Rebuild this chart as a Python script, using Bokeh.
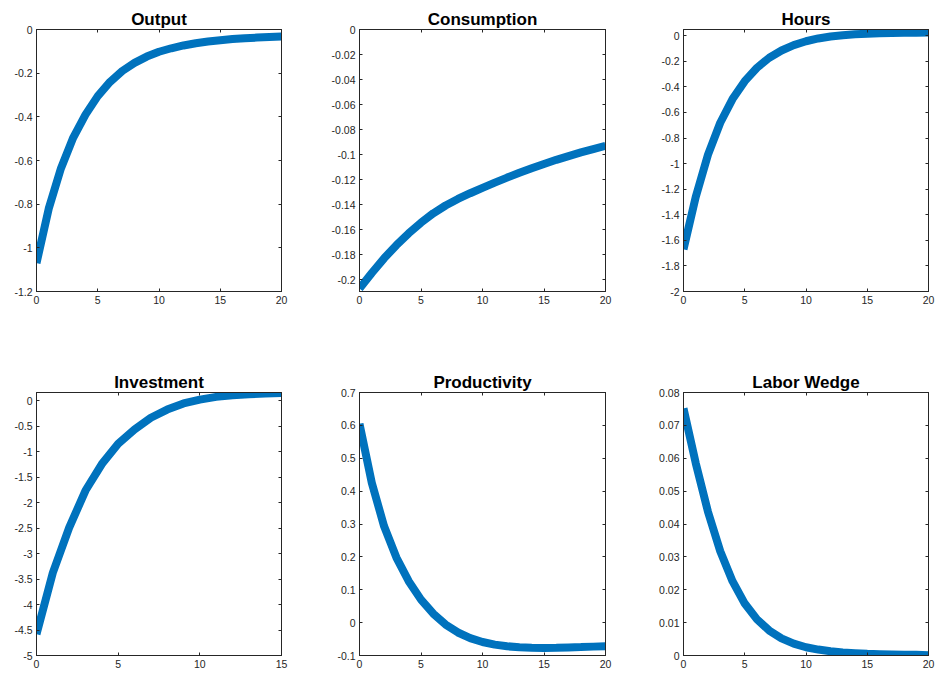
from bokeh.plotting import figure
from bokeh.models import Range1d, FixedTicker, LinearAxis
from bokeh.layouts import column, row
from bokeh.embed import file_html
from bokeh.resources import INLINE

# ---------------- data ----------------
periods20 = list(range(21))
periods15 = list(range(16))

output = [-1.07, -0.82, -0.635, -0.495, -0.39, -0.305, -0.24, -0.19, -0.153, -0.124,
          -0.102, -0.086, -0.073, -0.063, -0.055, -0.049, -0.044, -0.040, -0.037, -0.034, -0.032]
consumption = [-0.207, -0.1945, -0.1828, -0.1723, -0.1628, -0.1543, -0.1468, -0.1406, -0.1354, -0.1308,
               -0.1265, -0.1223, -0.1183, -0.1145, -0.1109, -0.1074, -0.1041, -0.1011, -0.0982, -0.0955, -0.0929]
hours = [-1.67, -1.26, -0.93, -0.68, -0.495, -0.355, -0.25, -0.172, -0.115, -0.073,
         -0.043, -0.021, -0.006, 0.004, 0.011, 0.016, 0.019, 0.021, 0.023, 0.024, 0.025]
investment = [-4.58, -3.375, -2.49, -1.76, -1.24, -0.84, -0.56, -0.33, -0.17, -0.05,
              0.026, 0.08, 0.11, 0.13, 0.145, 0.155]
productivity = [0.605, 0.425, 0.293, 0.198, 0.126, 0.07, 0.027, -0.006, -0.03, -0.047,
                -0.059, -0.067, -0.072, -0.075, -0.0765, -0.077, -0.0765, -0.0755, -0.0745, -0.073, -0.0715]
labor_wedge = [0.0752, 0.0585, 0.0437, 0.0317, 0.0226, 0.0158, 0.011, 0.0076, 0.0052, 0.0036,
               0.0025, 0.0018, 0.0013, 0.0009, 0.0007, 0.0005, 0.0004, 0.0003, 0.0002, 0.0002, 0.0001]

titles = ["Output", "Consumption", "Hours", "Investment", "Productivity", "Labor Wedge"]

xticks20 = [0, 5, 10, 15, 20]
xlabels20 = ["0", "5", "10", "15", "20"]
xticks15 = [0, 5, 10, 15]
xlabels15 = ["0", "5", "10", "15"]

yticks_output = [-1.2, -1.0, -0.8, -0.6, -0.4, -0.2, 0.0]
ylabels_output = ["-1.2", "-1", "-0.8", "-0.6", "-0.4", "-0.2", "0"]
yticks_cons = [-0.2, -0.18, -0.16, -0.14, -0.12, -0.1, -0.08, -0.06, -0.04, -0.02, 0.0]
ylabels_cons = ["-0.2", "-0.18", "-0.16", "-0.14", "-0.12", "-0.1", "-0.08", "-0.06", "-0.04", "-0.02", "0"]
yticks_hours = [-2.0, -1.8, -1.6, -1.4, -1.2, -1.0, -0.8, -0.6, -0.4, -0.2, 0.0]
ylabels_hours = ["-2", "-1.8", "-1.6", "-1.4", "-1.2", "-1", "-0.8", "-0.6", "-0.4", "-0.2", "0"]
yticks_inv = [-5.0, -4.5, -4.0, -3.5, -3.0, -2.5, -2.0, -1.5, -1.0, -0.5, 0.0]
ylabels_inv = ["-5", "-4.5", "-4", "-3.5", "-3", "-2.5", "-2", "-1.5", "-1", "-0.5", "0"]
yticks_prod = [-0.1, 0.0, 0.1, 0.2, 0.3, 0.4, 0.5, 0.6, 0.7]
ylabels_prod = ["-0.1", "0", "0.1", "0.2", "0.3", "0.4", "0.5", "0.6", "0.7"]
yticks_lw = [0.0, 0.01, 0.02, 0.03, 0.04, 0.05, 0.06, 0.07, 0.08]
ylabels_lw = ["0", "0.01", "0.02", "0.03", "0.04", "0.05", "0.06", "0.07", "0.08"]

# ---------------- styling ----------------
LINE_COLOR = "#0072BD"
AX_COLOR = "#262626"
FONT = "Liberation Sans"


def style_axis(ax, ticks, labels, show_labels=True):
    ax.ticker = FixedTicker(ticks=ticks)
    ax.axis_line_color = AX_COLOR
    ax.axis_line_width = 1
    ax.major_tick_line_color = AX_COLOR
    ax.major_tick_in = 3
    ax.major_tick_out = 0
    ax.minor_tick_line_color = None
    ax.major_label_text_font = FONT
    if show_labels:
        ax.major_label_overrides = {t: l for t, l in zip(ticks, labels)}
        ax.major_label_text_color = AX_COLOR
        ax.major_label_text_font_size = "10.5px"
        ax.major_label_standoff = 4
    else:
        ax.major_label_text_color = None
        ax.major_label_text_font_size = "0px"
        ax.major_label_standoff = 0


def make(title, xs, ys, xr, yr, xt, xl, yt, yl, fw, fh, bl, br, bt, bb):
    p = figure(frame_width=fw, frame_height=fh,
               x_range=Range1d(*xr), y_range=Range1d(*yr),
               output_backend="svg", toolbar_location=None,
               min_border_left=bl, min_border_right=br,
               min_border_top=bt, min_border_bottom=bb)
    p.background_fill_color = "white"
    p.border_fill_color = "white"
    p.outline_line_color = AX_COLOR
    p.xgrid.visible = False
    p.ygrid.visible = False
    style_axis(p.xaxis[0], xt, xl)
    style_axis(p.yaxis[0], yt, yl)
    top = LinearAxis()
    style_axis(top, xt, xl, show_labels=False)
    right = LinearAxis()
    style_axis(right, yt, yl, show_labels=False)
    p.add_layout(top, "above")
    p.add_layout(right, "right")
    p.title.text = title
    p.title.align = "center"
    p.title.text_font = FONT
    p.title.text_font_style = "bold"
    p.title.text_font_size = "17px"
    p.title.text_color = "black"
    p.title.standoff = 2
    p.line(xs, ys, line_width=8, line_color=LINE_COLOR)
    return p


FH = 262
p1 = make(titles[0], periods20, output, (0, 20), (-1.2, 0), xticks20, xlabels20,
          yticks_output, ylabels_output, 245, FH, 36, 10, 29, 40)
p2 = make(titles[1], periods20, consumption, (0, 20), (-0.2093, 0), xticks20, xlabels20,
          yticks_cons, ylabels_cons, 246, FH, 68, 10, 29, 40)
p3 = make(titles[2], periods20, hours, (0, 20), (-2, 0.049), xticks20, xlabels20,
          yticks_hours, ylabels_hours, 245, FH, 68, 7, 29, 40)
p4 = make(titles[3], periods15, investment, (0, 15), (-5, 0.165), xticks15, xlabels15,
          yticks_inv, ylabels_inv, 245, 263, 36, 10, 61, 24)
p5 = make(titles[4], periods20, productivity, (0, 20), (-0.1, 0.7), xticks20, xlabels20,
          yticks_prod, ylabels_prod, 246, 263, 68, 10, 61, 24)
p6 = make(titles[5], periods20, labor_wedge, (0, 20), (0, 0.08), xticks20, xlabels20,
          yticks_lw, ylabels_lw, 245, 263, 68, 7, 61, 24)

layout = column(row(p1, p2, p3), row(p4, p5, p6))
open("out.html", "w").write(file_html(layout, INLINE))
